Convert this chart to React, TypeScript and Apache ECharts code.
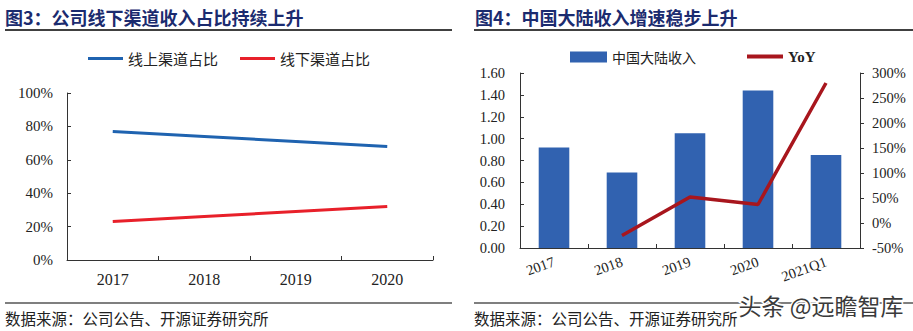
import React, { useEffect, useRef } from "react";
import * as echarts from "echarts";

const leftTitle = "图3：公司线下渠道收入占比持续上升";
const rightTitle = "图4：中国大陆收入增速稳步上升";
const sourceText = "数据来源：公司公告、开源证券研究所";
const watermark = "头条 @远瞻智库";

const years = ["2017", "2018", "2019", "2020"];
const onlineShare = [77, 74, 71, 68];
const offlineShare = [23, 26, 29, 32];

const periods = ["2017", "2018", "2019", "2020", "2021Q1"];
const mainlandRevenue = [0.92, 0.69, 1.05, 1.44, 0.85];
const revenueYoY: (number | null)[] = [null, -25, 52, 37, 280];

const SERIF = "'Times New Roman', 'Liberation Serif', serif";
const CJK = "'Noto Sans CJK SC', sans-serif";
const AXIS = "#333";

export default function App() {
  const ref = useRef<HTMLDivElement>(null);
  useEffect(() => {
    if (!ref.current) return;
    const chart = echarts.init(ref.current, null, { renderer: "svg" });
    const axisLine = { show: true, lineStyle: { color: AXIS, width: 1 } };
    const tickIn = { show: true, inside: true, length: 4, lineStyle: { color: AXIS } };
    chart.setOption({
      animation: false,
      backgroundColor: "#fff",
      grid: [
        { left: 67, top: 93, width: 366, height: 167 },
        { left: 520, top: 73, width: 340, height: 175 },
      ],
      legend: [
        {
          left: 88, top: 51, padding: 0, itemWidth: 35, itemHeight: 3, itemGap: 22,
          icon: "rect", data: ["线上渠道占比", "线下渠道占比"],
          textStyle: { fontFamily: CJK, fontSize: 15, color: "#222" },
        },
        {
          left: 570, top: 50, padding: 0, itemWidth: 37, itemHeight: 11,
          icon: "rect", data: ["中国大陆收入"],
          textStyle: { fontFamily: CJK, fontSize: 14, color: "#222" },
        },
        {
          left: 747, top: 49, padding: 0, itemWidth: 36, itemHeight: 4,
          icon: "rect", data: ["YoY"],
          textStyle: { fontFamily: SERIF, fontSize: 15, fontWeight: "bold", color: "#222" },
        },
      ],
      xAxis: [
        {
          type: "category", gridIndex: 0, data: years,
          axisLine, axisTick: tickIn,
          axisLabel: { fontFamily: SERIF, fontSize: 16, color: "#222", margin: 11 },
        },
        {
          type: "category", gridIndex: 1, data: periods,
          axisLine, axisTick: tickIn,
          axisLabel: { fontFamily: SERIF, fontSize: 14.5, color: "#222", margin: 13, rotate: 20 },
        },
      ],
      yAxis: [
        {
          type: "value", gridIndex: 0, min: 0, max: 100, interval: 20,
          axisLine, axisTick: tickIn, splitLine: { show: false },
          axisLabel: { formatter: "{value}%", fontFamily: SERIF, fontSize: 15, color: "#222", margin: 14 },
        },
        {
          type: "value", gridIndex: 1, min: 0, max: 1.6, interval: 0.2,
          axisLine, axisTick: tickIn, splitLine: { show: false },
          axisLabel: {
            formatter: (v: number) => v.toFixed(2),
            fontFamily: SERIF, fontSize: 14.5, color: "#222", margin: 15,
          },
        },
        {
          type: "value", gridIndex: 1, position: "right", min: -50, max: 300, interval: 50,
          axisLine, axisTick: { show: true, inside: false, length: 4, lineStyle: { color: AXIS } },
          splitLine: { show: false },
          axisLabel: { formatter: "{value}%", fontFamily: SERIF, fontSize: 14.5, color: "#222", margin: 12 },
        },
      ],
      series: [
        {
          name: "线上渠道占比", type: "line", xAxisIndex: 0, yAxisIndex: 0, data: onlineShare,
          symbol: "none", color: "#1F63B0", lineStyle: { width: 3, color: "#1F63B0" },
        },
        {
          name: "线下渠道占比", type: "line", xAxisIndex: 0, yAxisIndex: 0, data: offlineShare,
          symbol: "none", color: "#E8202A", lineStyle: { width: 3, color: "#E8202A" },
        },
        {
          name: "中国大陆收入", type: "bar", xAxisIndex: 1, yAxisIndex: 1, data: mainlandRevenue,
          barWidth: "45%", color: "#3162B0", itemStyle: { color: "#3162B0" },
        },
        {
          name: "YoY", type: "line", xAxisIndex: 1, yAxisIndex: 2, data: revenueYoY,
          connectNulls: true, symbol: "none", color: "#A8161D",
          lineStyle: { width: 3.5, color: "#A8161D" }, z: 5,
        },
      ],
      graphic: [
        { type: "text", left: 5, top: 8, style: { text: leftTitle, font: `bold 18px ${CJK}`, fill: "#1B2B6F" } },
        { type: "text", left: 475, top: 8, style: { text: rightTitle, font: `bold 18px ${CJK}`, fill: "#1B2B6F" } },
        { type: "line", shape: { x1: 5, y1: 30, x2: 452, y2: 30 }, style: { stroke: "#000", lineWidth: 1.5 } },
        { type: "line", shape: { x1: 474, y1: 30, x2: 913, y2: 30 }, style: { stroke: "#000", lineWidth: 1.5 } },
        { type: "line", shape: { x1: 5, y1: 303, x2: 452, y2: 303 }, style: { stroke: "#000", lineWidth: 1.2 } },
        { type: "line", shape: { x1: 474, y1: 303, x2: 913, y2: 303 }, style: { stroke: "#000", lineWidth: 1.2 } },
        { type: "text", left: 5, top: 310, style: { text: sourceText, font: `15.5px ${CJK}`, fill: "#222" } },
        { type: "text", left: 474, top: 310, style: { text: sourceText, font: `15.5px ${CJK}`, fill: "#222" } },
        {
          type: "text", left: 737, top: 292,
          style: { text: watermark, font: `23px ${CJK}`, fill: "#3a3a3a", stroke: "#fff", lineWidth: 3 },
        },
      ],
    });
    return () => chart.dispose();
  }, []);
  return (
    <div
      ref={ref}
      style={{ position: "absolute", left: 0, top: 0, width: 913, height: 331 }}
    />
  );
}
